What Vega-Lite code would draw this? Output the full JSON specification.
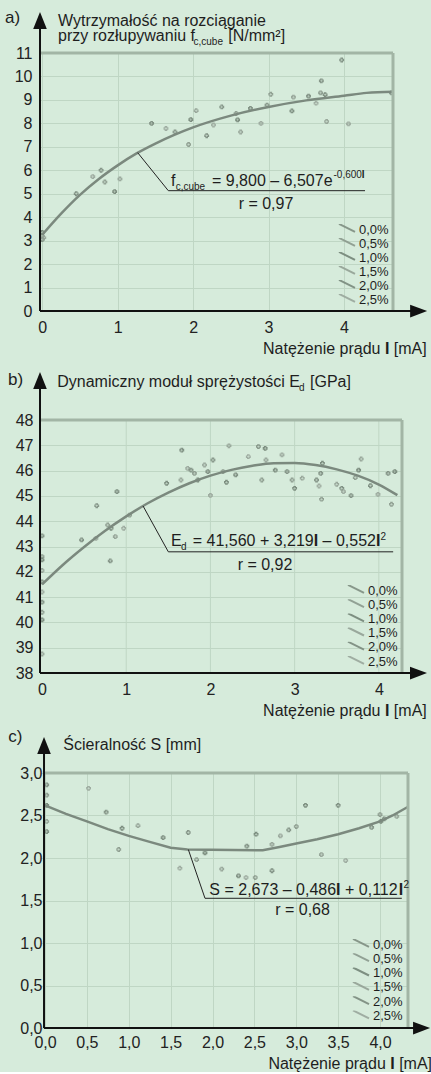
{
"$schema": "https://vega.github.io/schema/vega-lite/v6.json",
"padding": {"left": 5, "top": 8, "right": 0, "bottom": 0},
"background": "#d6ebdb",
"config": {
  "font": "Liberation Sans",
  "view": {"stroke": null},
  "axis": {"labelFont": "Liberation Sans", "labelFontSize": 16, "labelColor": "#222", "domain": false, "ticks": false, "tickSize": 0, "gridColor": "#bfd6c4", "gridWidth": 1, "labelFlush": false, "labelOverlap": false},
  "legend": {"labelFont": "Liberation Sans", "labelFontSize": 13, "labelColor": "#1e1e1e", "symbolType": "M-1,-0.7L1,0.3", "symbolSize": 256, "symbolStrokeWidth": 2, "rowPadding": 0, "clipHeight": 11, "labelOffset": 3, "padding": 0},
  "text": {"font": "Liberation Sans", "color": "#1e1e1e", "fontSize": 16, "align": "left", "baseline": "alphabetic"}
},
"datasets": {
  "pa": [
    {"I":0,"v":3.05,"p":"0,0%"},{"I":0,"v":3.2,"p":"0,5%"},{"I":0,"v":3.35,"p":"1,0%"},{"I":0.02,"v":3.12,"p":"1,5%"},{"I":0.45,"v":5.0,"p":"2,0%"},{"I":0.67,"v":5.73,"p":"2,5%"},
    {"I":0.78,"v":6.0,"p":"0,0%"},{"I":0.83,"v":5.5,"p":"0,5%"},{"I":0.96,"v":5.09,"p":"1,0%"},{"I":1.03,"v":5.63,"p":"1,5%"},{"I":1.45,"v":8.0,"p":"2,0%"},{"I":1.64,"v":7.78,"p":"2,5%"},
    {"I":1.76,"v":7.63,"p":"0,0%"},{"I":1.94,"v":7.1,"p":"0,5%"},{"I":1.97,"v":8.16,"p":"1,0%"},{"I":2.04,"v":8.54,"p":"1,5%"},{"I":2.18,"v":7.47,"p":"2,0%"},{"I":2.27,"v":7.93,"p":"2,5%"},
    {"I":2.38,"v":8.7,"p":"0,0%"},{"I":2.57,"v":8.42,"p":"0,5%"},{"I":2.59,"v":8.15,"p":"1,0%"},{"I":2.63,"v":7.63,"p":"1,5%"},{"I":2.76,"v":8.64,"p":"2,0%"},{"I":2.9,"v":8.0,"p":"2,5%"},
    {"I":2.98,"v":8.78,"p":"0,0%"},{"I":3.03,"v":9.24,"p":"0,5%"},{"I":3.31,"v":8.53,"p":"1,0%"},{"I":3.33,"v":9.12,"p":"1,5%"},{"I":3.53,"v":9.16,"p":"2,0%"},{"I":3.63,"v":8.86,"p":"2,5%"},
    {"I":3.7,"v":9.81,"p":"0,0%"},{"I":3.69,"v":9.3,"p":"0,5%"},{"I":3.75,"v":9.22,"p":"1,0%"},{"I":3.77,"v":8.08,"p":"1,5%"},{"I":3.97,"v":10.7,"p":"2,0%"},{"I":4.06,"v":7.98,"p":"2,5%"},
    {"I":4.63,"v":9.3,"p":"0,0%"}
  ],
  "ca": [
    {"I":0,"v":3.25},{"I":0.25,"v":4.15},{"I":0.5,"v":4.95},{"I":0.75,"v":5.63},{"I":1.0,"v":6.21},{"I":1.25,"v":6.72},{"I":1.5,"v":7.14},{"I":1.75,"v":7.51},{"I":2.0,"v":7.83},{"I":2.5,"v":8.33},{"I":3.0,"v":8.7},{"I":3.5,"v":8.98},{"I":4.0,"v":9.18},{"I":4.3,"v":9.3},{"I":4.65,"v":9.35}
  ],
  "pb": [
    {"I":0,"v":43.42,"p":"0,0%"},{"I":0,"v":42.6,"p":"0,5%"},{"I":0,"v":42.47,"p":"1,0%"},{"I":0,"v":42.05,"p":"1,5%"},{"I":0,"v":41.6,"p":"2,0%"},{"I":0,"v":41.2,"p":"2,5%"},
    {"I":0,"v":40.8,"p":"0,0%"},{"I":0,"v":40.4,"p":"0,5%"},{"I":0,"v":40.1,"p":"1,0%"},{"I":0,"v":38.75,"p":"1,5%"},{"I":0.47,"v":43.26,"p":"2,0%"},{"I":0.64,"v":43.32,"p":"2,5%"},
    {"I":0.65,"v":44.61,"p":"0,0%"},{"I":0.78,"v":43.85,"p":"0,5%"},{"I":0.82,"v":43.72,"p":"1,0%"},{"I":0.87,"v":43.39,"p":"1,5%"},{"I":0.89,"v":45.17,"p":"2,0%"},{"I":0.97,"v":43.72,"p":"2,5%"},
    {"I":0.81,"v":42.43,"p":"0,0%"},{"I":1.04,"v":44.24,"p":"0,5%"},{"I":1.48,"v":45.5,"p":"1,0%"},{"I":1.65,"v":45.63,"p":"1,5%"},{"I":1.66,"v":46.81,"p":"2,0%"},{"I":1.73,"v":46.09,"p":"2,5%"},
    {"I":1.77,"v":46.02,"p":"0,0%"},{"I":1.81,"v":45.89,"p":"0,5%"},{"I":1.85,"v":45.63,"p":"1,0%"},{"I":1.93,"v":46.22,"p":"1,5%"},{"I":1.97,"v":45.96,"p":"2,0%"},{"I":2.0,"v":45.02,"p":"2,5%"},
    {"I":2.03,"v":46.42,"p":"0,0%"},{"I":2.15,"v":45.96,"p":"0,5%"},{"I":2.19,"v":45.54,"p":"1,0%"},{"I":2.22,"v":46.98,"p":"1,5%"},{"I":2.3,"v":45.83,"p":"2,0%"},{"I":2.45,"v":46.55,"p":"2,5%"},
    {"I":2.57,"v":46.95,"p":"0,0%"},{"I":2.61,"v":45.63,"p":"0,5%"},{"I":2.65,"v":46.88,"p":"1,0%"},{"I":2.66,"v":46.42,"p":"1,5%"},{"I":2.77,"v":46.02,"p":"2,0%"},{"I":2.85,"v":46.62,"p":"2,5%"},
    {"I":2.91,"v":45.96,"p":"0,0%"},{"I":2.97,"v":45.63,"p":"0,5%"},{"I":3.0,"v":45.3,"p":"1,0%"},{"I":3.09,"v":45.7,"p":"1,5%"},{"I":3.26,"v":45.63,"p":"2,0%"},{"I":3.29,"v":45.39,"p":"2,5%"},
    {"I":3.31,"v":45.89,"p":"0,0%"},{"I":3.32,"v":44.87,"p":"0,5%"},{"I":3.33,"v":46.29,"p":"1,0%"},{"I":3.5,"v":45.46,"p":"1,5%"},{"I":3.56,"v":45.3,"p":"2,0%"},{"I":3.58,"v":45.17,"p":"2,5%"},
    {"I":3.67,"v":45.01,"p":"0,0%"},{"I":3.72,"v":45.72,"p":"0,5%"},{"I":3.76,"v":46.02,"p":"1,0%"},{"I":3.79,"v":46.46,"p":"1,5%"},{"I":3.9,"v":45.4,"p":"2,0%"},{"I":3.99,"v":45.06,"p":"2,5%"},
    {"I":4.11,"v":45.89,"p":"0,0%"},{"I":4.15,"v":44.67,"p":"0,5%"},{"I":4.19,"v":45.96,"p":"1,0%"}
  ],
  "cb": [
    {"I":0,"v":41.5},{"I":0.25,"v":42.28},{"I":0.5,"v":42.98},{"I":0.75,"v":43.62},{"I":1.0,"v":44.19},{"I":1.25,"v":44.7},{"I":1.5,"v":45.13},{"I":1.75,"v":45.5},{"I":2.0,"v":45.8},{"I":2.25,"v":46.03},{"I":2.5,"v":46.19},{"I":2.75,"v":46.29},{"I":3.0,"v":46.3},{"I":3.25,"v":46.22},{"I":3.5,"v":46.05},{"I":3.75,"v":45.8},{"I":4.0,"v":45.45},{"I":4.22,"v":45.03}
  ],
  "pc": [
    {"I":0.02,"v":2.86,"p":"0,0%"},{"I":0.02,"v":2.74,"p":"0,5%"},{"I":0.02,"v":2.62,"p":"1,0%"},{"I":0.02,"v":2.43,"p":"1,5%"},{"I":0.02,"v":2.31,"p":"2,0%"},{"I":0.52,"v":2.82,"p":"2,5%"},
    {"I":0.73,"v":2.54,"p":"0,0%"},{"I":0.88,"v":2.1,"p":"0,5%"},{"I":0.92,"v":2.35,"p":"1,0%"},{"I":1.11,"v":2.38,"p":"1,5%"},{"I":1.41,"v":2.24,"p":"2,0%"},{"I":1.61,"v":1.88,"p":"2,5%"},
    {"I":1.71,"v":2.3,"p":"0,0%"},{"I":1.81,"v":1.98,"p":"0,5%"},{"I":1.91,"v":2.06,"p":"1,0%"},{"I":2.11,"v":1.87,"p":"1,5%"},{"I":2.31,"v":1.79,"p":"2,0%"},{"I":2.4,"v":1.77,"p":"2,5%"},
    {"I":2.41,"v":2.14,"p":"0,0%"},{"I":2.51,"v":1.77,"p":"0,5%"},{"I":2.52,"v":2.28,"p":"1,0%"},{"I":2.71,"v":2.16,"p":"1,5%"},{"I":2.71,"v":1.85,"p":"2,0%"},{"I":2.81,"v":2.26,"p":"2,5%"},
    {"I":2.91,"v":2.33,"p":"0,0%"},{"I":3.0,"v":2.37,"p":"0,5%"},{"I":3.11,"v":2.62,"p":"1,0%"},{"I":3.3,"v":2.04,"p":"1,5%"},{"I":3.5,"v":2.62,"p":"2,0%"},{"I":3.59,"v":1.97,"p":"2,5%"},
    {"I":3.9,"v":2.36,"p":"0,0%"},{"I":4.0,"v":2.51,"p":"0,5%"},{"I":4.01,"v":2.43,"p":"1,0%"},{"I":4.2,"v":2.49,"p":"1,5%"},{"I":4.05,"v":2.46,"p":"2,0%"}
  ],
  "cc": [
    {"I":0,"v":2.62},{"I":0.25,"v":2.52},{"I":0.5,"v":2.43},{"I":0.75,"v":2.34},{"I":1.0,"v":2.26},{"I":1.25,"v":2.19},{"I":1.5,"v":2.12},{"I":1.7,"v":2.1},{"I":2.6,"v":2.09},{"I":2.8,"v":2.13},{"I":3.0,"v":2.17},{"I":3.25,"v":2.22},{"I":3.5,"v":2.28},{"I":3.75,"v":2.35},{"I":4.0,"v":2.43},{"I":4.15,"v":2.5},{"I":4.33,"v":2.6}
  ]
},
"vconcat": [
  {
    "width": 353, "height": 258,
    "layer": [
      {"data": {"name": "pa"}, "mark": {"type": "point", "shape": "cross", "size": 14, "filled": false, "strokeWidth": 1.1, "opacity": 0.9},
       "encoding": {
         "x": {"field": "I", "type": "quantitative", "scale": {"domain": [-0.03, 4.65], "nice": false, "zero": false}, "axis": {"title": null, "values": [0,1,2,3,4], "tickCount": 5, "format": "d", "labelOverlap": false, "grid": true, "labelPadding": 8}},
         "y": {"field": "v", "type": "quantitative", "scale": {"domain": [0, 11], "nice": false, "zero": false}, "axis": {"title": null, "values": [0,1,2,3,4,5,6,7,8,9,10,11], "tickCount": 12, "format": "d", "labelOverlap": false, "grid": true, "labelPadding": 8}},
         "color": {"field": "p", "type": "nominal", "scale": {"range": ["#7f8f82","#8a998c","#748577","#93a195","#7a8a7d","#9aa79c"]}, "legend": {"title": null, "orient": "bottom-right", "offset": 4, "rowPadding": 0, "clipHeight": 11, "labelColor": "#1e1e1e", "symbolSize": 256, "symbolType": "M-1,-0.7L1,0.3", "symbolStrokeWidth": 2}}}},
      {"data": {"name": "ca"}, "mark": {"type": "line", "color": "#7b897e", "strokeWidth": 2.5, "interpolate": "monotone"}, "encoding": {"x": {"field": "I", "type": "quantitative"}, "y": {"field": "v", "type": "quantitative"}}},
      {"data": {"values": [{}]}, "mark": {"type": "rule", "color": "#a2b5a5", "strokeWidth": 3}, "encoding": {"x": {"datum": -0.03}, "x2": {"datum": 4.65}, "y": {"datum": 11}}},
      {"data": {"values": [{}]}, "mark": {"type": "rule", "color": "#a2b5a5", "strokeWidth": 3}, "encoding": {"x": {"datum": 4.65}, "y": {"datum": 0}, "y2": {"datum": 11}}},
      {"data": {"values": [{}]}, "mark": {"type": "rule", "color": "#111", "strokeWidth": 2}, "encoding": {"x": {"datum": -0.03}, "y": {"datum": 0}, "y2": {"datum": 12.39}}},
      {"data": {"values": [{}]}, "mark": {"type": "rule", "color": "#111", "strokeWidth": 2}, "encoding": {"x": {"datum": -0.03}, "x2": {"datum": 4.99}, "y": {"datum": 0}}},
      {"data": {"values": [{}]}, "mark": {"type": "point", "shape": "M0,-1L0.8,1L-0.8,1Z", "size": 289, "filled": true, "color": "#111", "opacity": 1}, "encoding": {"x": {"datum": -0.03}, "y": {"datum": 12.39}}},
      {"data": {"values": [{}]}, "mark": {"type": "point", "shape": "M1,0L-1,-0.75L-1,0.75Z", "size": 289, "filled": true, "color": "#111", "opacity": 1}, "encoding": {"x": {"datum": 4.99}, "y": {"datum": 0}}},
      {"data": {"values": [{}]}, "mark": {"type": "rule", "color": "#222", "strokeWidth": 1}, "encoding": {"x": {"datum": 1.265}, "y": {"datum": 6.75}, "x2": {"datum": 1.671}, "y2": {"datum": 5.13}}},
      {"data": {"values": [{}]}, "mark": {"type": "rule", "color": "#222", "strokeWidth": 1}, "encoding": {"x": {"datum": 1.671}, "x2": {"datum": 4.279}, "y": {"datum": 5.13}}},
      {"data": {"values": [{}]}, "mark": {"type": "text", "text": "a)", "fontSize": 17}, "encoding": {"x": {"datum": -0.494}, "y": {"datum": 12.3}}},
      {"data": {"values": [{}]}, "mark": {"type": "text", "text": "Wytrzymałość na rozciąganie"}, "encoding": {"x": {"datum": 0.209}, "y": {"datum": 12.14}}},
      {"data": {"values": [{}]}, "mark": {"type": "text", "text": "przy rozłupywaniu f"}, "encoding": {"x": {"datum": 0.209}, "y": {"datum": 11.5}}},
      {"data": {"values": [{}]}, "mark": {"type": "text", "text": "c,cube", "fontSize": 10}, "encoding": {"x": {"datum": 2.005}, "y": {"datum": 11.33}}},
      {"data": {"values": [{}]}, "mark": {"type": "text", "text": "[N/mm²]"}, "encoding": {"x": {"datum": 2.466}, "y": {"datum": 11.5}}},
      {"data": {"values": [{}]}, "mark": {"type": "text", "text": "Natężenie prądu", "align": "right"}, "encoding": {"x": {"datum": 4.484}, "y": {"datum": -1.85}}},
      {"data": {"values": [{}]}, "mark": {"type": "text", "text": "I", "align": "right", "fontWeight": "bold"}, "encoding": {"x": {"datum": 4.602}, "y": {"datum": -1.85}}},
      {"data": {"values": [{}]}, "mark": {"type": "text", "text": "[mA]", "align": "right"}, "encoding": {"x": {"datum": 5.097}, "y": {"datum": -1.85}}},
      {"data": {"values": [{}]}, "mark": {"type": "text", "text": "f"}, "encoding": {"x": {"datum": 1.707}, "y": {"datum": 5.33}}},
      {"data": {"values": [{}]}, "mark": {"type": "text", "text": "c,cube", "fontSize": 10}, "encoding": {"x": {"datum": 1.769}, "y": {"datum": 5.18}}},
      {"data": {"values": [{}]}, "mark": {"type": "text", "text": "= 9,800 – 6,507e"}, "encoding": {"x": {"datum": 2.25}, "y": {"datum": 5.33}}},
      {"data": {"values": [{}]}, "mark": {"type": "text", "text": "-0,600", "fontSize": 10}, "encoding": {"x": {"datum": 3.861}, "y": {"datum": 5.67}}},
      {"data": {"values": [{}]}, "mark": {"type": "text", "text": "I", "fontSize": 10, "fontWeight": "bold"}, "encoding": {"x": {"datum": 4.237}, "y": {"datum": 5.67}}},
      {"data": {"values": [{}]}, "mark": {"type": "text", "text": "r = 0,97", "align": "center"}, "encoding": {"x": {"datum": 2.966}, "y": {"datum": 4.35}}}
    ]
  },
  {
    "width": 362, "height": 262,
    "layer": [
      {"data": {"values": [{"g":1},{"g":2},{"g":3},{"g":4}]}, "mark": {"type": "rule", "color": "#bfd6c4", "strokeWidth": 1}, "encoding": {"x": {"field": "g", "type": "quantitative", "scale": {"domain": [-0.024, 4.275], "nice": false, "zero": false}, "axis": {"title": null, "values": [0,1,2,3,4], "tickCount": 5, "format": "d", "labelOverlap": false, "grid": false, "labelPadding": 8}}, "y": {"datum": 38, "scale": {"domain": [38, 48.356], "nice": false, "zero": false}, "axis": {"title": null, "values": [38,39,40,41,42,43,44,45,46,47,48], "tickCount": 11, "format": "d", "labelOverlap": false, "grid": true, "labelPadding": 7}}, "y2": {"datum": 48}}},
      {"data": {"name": "pb"}, "mark": {"type": "point", "shape": "cross", "size": 14, "filled": false, "strokeWidth": 1.1, "opacity": 0.9},
       "encoding": {
         "x": {"field": "I", "type": "quantitative"},
         "y": {"field": "v", "type": "quantitative"},
         "color": {"field": "p", "type": "nominal", "scale": {"range": ["#7f8f82","#8a998c","#748577","#93a195","#7a8a7d","#9aa79c"]}, "legend": {"title": null, "orient": "bottom-right", "offset": 4, "rowPadding": 0.2, "clipHeight": 11, "labelColor": "#1e1e1e", "symbolSize": 256, "symbolType": "M-1,-0.7L1,0.3", "symbolStrokeWidth": 2}}}},
      {"data": {"name": "cb"}, "mark": {"type": "line", "color": "#7b897e", "strokeWidth": 2.5, "interpolate": "monotone"}, "encoding": {"x": {"field": "I", "type": "quantitative"}, "y": {"field": "v", "type": "quantitative"}}},
      {"data": {"values": [{}]}, "mark": {"type": "rule", "color": "#a2b5a5", "strokeWidth": 3}, "encoding": {"x": {"datum": -0.024}, "x2": {"datum": 4.275}, "y": {"datum": 48}}},
      {"data": {"values": [{}]}, "mark": {"type": "rule", "color": "#a2b5a5", "strokeWidth": 3}, "encoding": {"x": {"datum": 4.275}, "y": {"datum": 38}, "y2": {"datum": 48}}},
      {"data": {"values": [{}]}, "mark": {"type": "rule", "color": "#111", "strokeWidth": 2}, "encoding": {"x": {"datum": -0.024}, "y": {"datum": 38}, "y2": {"datum": 49.56}}},
      {"data": {"values": [{}]}, "mark": {"type": "rule", "color": "#111", "strokeWidth": 2}, "encoding": {"x": {"datum": -0.024}, "x2": {"datum": 4.471}, "y": {"datum": 38}}},
      {"data": {"values": [{}]}, "mark": {"type": "point", "shape": "M0,-1L0.8,1L-0.8,1Z", "size": 289, "filled": true, "color": "#111", "opacity": 1}, "encoding": {"x": {"datum": -0.024}, "y": {"datum": 49.56}}},
      {"data": {"values": [{}]}, "mark": {"type": "point", "shape": "M1,0L-1,-0.75L-1,0.75Z", "size": 289, "filled": true, "color": "#111", "opacity": 1}, "encoding": {"x": {"datum": 4.471}, "y": {"datum": 38}}},
      {"data": {"values": [{}]}, "mark": {"type": "rule", "color": "#222", "strokeWidth": 1}, "encoding": {"x": {"datum": 1.2}, "y": {"datum": 44.6}, "x2": {"datum": 1.5}, "y2": {"datum": 42.79}}},
      {"data": {"values": [{}]}, "mark": {"type": "rule", "color": "#222", "strokeWidth": 1}, "encoding": {"x": {"datum": 1.5}, "x2": {"datum": 4.17}, "y": {"datum": 42.79}}},
      {"data": {"values": [{}]}, "mark": {"type": "text", "text": "b)", "fontSize": 17}, "encoding": {"x": {"datum": -0.404}, "y": {"datum": 49.38}}},
      {"data": {"values": [{}]}, "mark": {"type": "text", "text": "Dynamiczny moduł sprężystości E"}, "encoding": {"x": {"datum": 0.181}, "y": {"datum": 49.32}}},
      {"data": {"values": [{}]}, "mark": {"type": "text", "text": "d", "fontSize": 10}, "encoding": {"x": {"datum": 3.052}, "y": {"datum": 49.16}}},
      {"data": {"values": [{}]}, "mark": {"type": "text", "text": "[GPa]"}, "encoding": {"x": {"datum": 3.183}, "y": {"datum": 49.32}}},
      {"data": {"values": [{}]}, "mark": {"type": "text", "text": "Natężenie prądu", "align": "right"}, "encoding": {"x": {"datum": 4.02}, "y": {"datum": 36.3}}},
      {"data": {"values": [{}]}, "mark": {"type": "text", "text": "I", "align": "right", "fontWeight": "bold"}, "encoding": {"x": {"datum": 4.125}, "y": {"datum": 36.3}}},
      {"data": {"values": [{}]}, "mark": {"type": "text", "text": "[mA]", "align": "right"}, "encoding": {"x": {"datum": 4.569}, "y": {"datum": 36.3}}},
      {"data": {"values": [{}]}, "mark": {"type": "text", "text": "E"}, "encoding": {"x": {"datum": 1.532}, "y": {"datum": 43.02}}},
      {"data": {"values": [{}]}, "mark": {"type": "text", "text": "d", "fontSize": 10}, "encoding": {"x": {"datum": 1.651}, "y": {"datum": 42.86}}},
      {"data": {"values": [{}]}, "mark": {"type": "text", "text": "= 41,560 + 3,219"}, "encoding": {"x": {"datum": 1.79}, "y": {"datum": 43.02}}},
      {"data": {"values": [{}]}, "mark": {"type": "text", "text": "I", "fontWeight": "bold"}, "encoding": {"x": {"datum": 3.227}, "y": {"datum": 43.02}}},
      {"data": {"values": [{}]}, "mark": {"type": "text", "text": "– 0,552"}, "encoding": {"x": {"datum": 3.332}, "y": {"datum": 43.02}}},
      {"data": {"values": [{}]}, "mark": {"type": "text", "text": "I", "fontWeight": "bold"}, "encoding": {"x": {"datum": 3.966}, "y": {"datum": 43.02}}},
      {"data": {"values": [{}]}, "mark": {"type": "text", "text": "2", "fontSize": 10}, "encoding": {"x": {"datum": 4.02}, "y": {"datum": 43.26}}},
      {"data": {"values": [{}]}, "mark": {"type": "text", "text": "r = 0,92", "align": "center"}, "encoding": {"x": {"datum": 2.648}, "y": {"datum": 42.07}}}
    ]
  },
  {
    "width": 368, "height": 255,
    "layer": [
      {"data": {"name": "pc"}, "mark": {"type": "point", "shape": "cross", "size": 14, "filled": false, "strokeWidth": 1.1, "opacity": 0.9},
       "encoding": {
         "x": {"field": "I", "type": "quantitative", "scale": {"domain": [-0.06, 4.334], "nice": false, "zero": false}, "axis": {"title": null, "values": [0,0.5,1,1.5,2,2.5,3,3.5,4], "tickCount": 9, "labelOverlap": false, "grid": true, "labelPadding": 6, "labelExpr": "replace(format(datum.value, '.1f'), '.', ',')"}},
         "y": {"field": "v", "type": "quantitative", "scale": {"domain": [0, 3], "nice": false, "zero": false}, "axis": {"title": null, "values": [0,0.5,1,1.5,2,2.5,3], "tickCount": 7, "labelOverlap": false, "grid": true, "labelPadding": -2, "labelExpr": "replace(format(datum.value, '.1f'), '.', ',')"}},
         "color": {"field": "p", "type": "nominal", "scale": {"range": ["#7f8f82","#8a998c","#748577","#93a195","#7a8a7d","#9aa79c"]}, "legend": {"title": null, "orient": "bottom-right", "offset": 5, "rowPadding": 0.3, "clipHeight": 11, "labelColor": "#1e1e1e", "symbolSize": 256, "symbolType": "M-1,-0.7L1,0.3", "symbolStrokeWidth": 2}}}},
      {"data": {"name": "cc"}, "mark": {"type": "line", "color": "#7b897e", "strokeWidth": 2.5}, "encoding": {"x": {"field": "I", "type": "quantitative"}, "y": {"field": "v", "type": "quantitative"}}},
      {"data": {"values": [{}]}, "mark": {"type": "rule", "color": "#a2b5a5", "strokeWidth": 3}, "encoding": {"x": {"datum": -0.012}, "x2": {"datum": 4.334}, "y": {"datum": 3}}},
      {"data": {"values": [{}]}, "mark": {"type": "rule", "color": "#a2b5a5", "strokeWidth": 3}, "encoding": {"x": {"datum": 4.334}, "y": {"datum": 0}, "y2": {"datum": 3}}},
      {"data": {"values": [{}]}, "mark": {"type": "rule", "color": "#111", "strokeWidth": 2}, "encoding": {"x": {"datum": -0.012}, "y": {"datum": 0}, "y2": {"datum": 3.324}}},
      {"data": {"values": [{}]}, "mark": {"type": "rule", "color": "#111", "strokeWidth": 2}, "encoding": {"x": {"datum": -0.012}, "x2": {"datum": 4.496}, "y": {"datum": 0}}},
      {"data": {"values": [{}]}, "mark": {"type": "point", "shape": "M0,-1L0.8,1L-0.8,1Z", "size": 289, "filled": true, "color": "#111", "opacity": 1}, "encoding": {"x": {"datum": -0.012}, "y": {"datum": 3.324}}},
      {"data": {"values": [{}]}, "mark": {"type": "point", "shape": "M1,0L-1,-0.75L-1,0.75Z", "size": 289, "filled": true, "color": "#111", "opacity": 1}, "encoding": {"x": {"datum": 4.496}, "y": {"datum": 0}}},
      {"data": {"values": [{}]}, "mark": {"type": "rule", "color": "#222", "strokeWidth": 1}, "encoding": {"x": {"datum": 1.711}, "y": {"datum": 2.1}, "x2": {"datum": 1.91}, "y2": {"datum": 1.526}}},
      {"data": {"values": [{}]}, "mark": {"type": "rule", "color": "#222", "strokeWidth": 1}, "encoding": {"x": {"datum": 1.91}, "x2": {"datum": 4.26}, "y": {"datum": 1.526}}},
      {"data": {"values": [{}]}, "mark": {"type": "text", "text": "c)", "fontSize": 17}, "encoding": {"x": {"datum": -0.438}, "y": {"datum": 3.368}}},
      {"data": {"values": [{}]}, "mark": {"type": "text", "text": "Ścieralność S [mm]"}, "encoding": {"x": {"datum": 0.219}, "y": {"datum": 3.27}}},
      {"data": {"values": [{}]}, "mark": {"type": "text", "text": "Natężenie prądu", "align": "right"}, "encoding": {"x": {"datum": 4.069}, "y": {"datum": -0.48}}},
      {"data": {"values": [{}]}, "mark": {"type": "text", "text": "I", "align": "right", "fontWeight": "bold"}, "encoding": {"x": {"datum": 4.175}, "y": {"datum": -0.48}}},
      {"data": {"values": [{}]}, "mark": {"type": "text", "text": "[mA]", "align": "right"}, "encoding": {"x": {"datum": 4.621}, "y": {"datum": -0.48}}},
      {"data": {"values": [{}]}, "mark": {"type": "text", "text": "S = 2,673 – 0,486"}, "encoding": {"x": {"datum": 1.962}, "y": {"datum": 1.565}}},
      {"data": {"values": [{}]}, "mark": {"type": "text", "text": "I", "fontWeight": "bold"}, "encoding": {"x": {"datum": 3.475}, "y": {"datum": 1.565}}},
      {"data": {"values": [{}]}, "mark": {"type": "text", "text": "+ 0,112"}, "encoding": {"x": {"datum": 3.582}, "y": {"datum": 1.565}}},
      {"data": {"values": [{}]}, "mark": {"type": "text", "text": "I", "fontWeight": "bold"}, "encoding": {"x": {"datum": 4.224}, "y": {"datum": 1.565}}},
      {"data": {"values": [{}]}, "mark": {"type": "text", "text": "2", "fontSize": 10}, "encoding": {"x": {"datum": 4.28}, "y": {"datum": 1.647}}},
      {"data": {"values": [{}]}, "mark": {"type": "text", "text": "r = 0,68", "align": "center"}, "encoding": {"x": {"datum": 3.075}, "y": {"datum": 1.33}}}
    ]
  }
],
"spacing": 100,
"bounds": "flush",
"resolve": {"scale": {"x": "independent", "y": "independent", "color": "independent"}, "axis": {"x": "independent", "y": "independent"}, "legend": {"color": "independent"}}
}
